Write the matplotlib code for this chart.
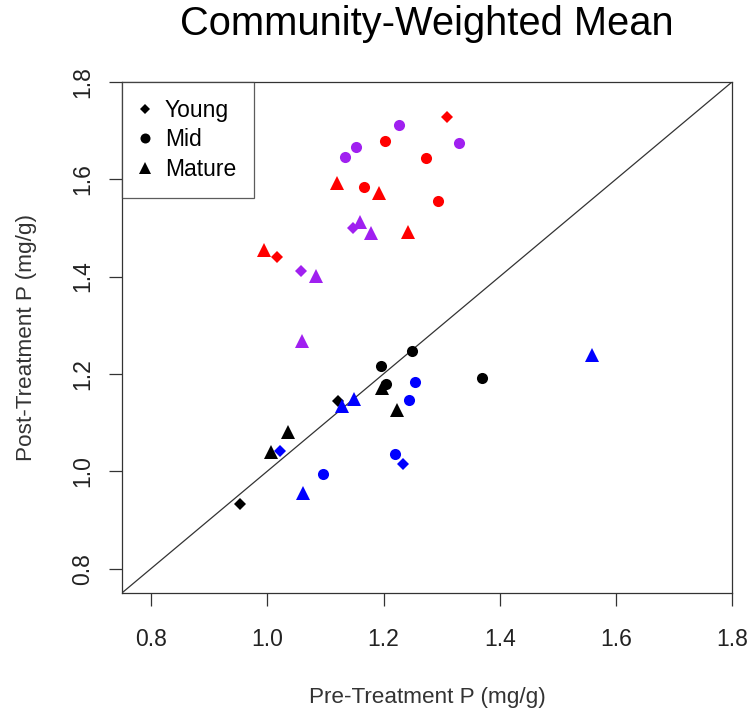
import numpy as np
import matplotlib
matplotlib.use("Agg")
import matplotlib.pyplot as plt
from matplotlib.lines import Line2D

plt.rcParams['font.family'] = ['Liberation Sans', 'DejaVu Sans']

# --- data ---------------------------------------------------------------
# each colour group: Young (diamond), Mid (circle), Mature (triangle)
red_young_x = [1.309, 1.017]
red_young_y = [1.727, 1.440]
red_mid_x = [1.203, 1.273, 1.167, 1.294]
red_mid_y = [1.678, 1.644, 1.583, 1.555]
red_mature_x = [1.120, 1.192, 1.242, 0.995]
red_mature_y = [1.592, 1.572, 1.491, 1.454]

purple_young_x = [1.148, 1.058]
purple_young_y = [1.500, 1.411]
purple_mid_x = [1.226, 1.153, 1.133, 1.330]
purple_mid_y = [1.712, 1.665, 1.646, 1.674]
purple_mature_x = [1.160, 1.179, 1.084, 1.060]
purple_mature_y = [1.512, 1.490, 1.402, 1.268]

blue_young_x = [1.022, 1.233]
blue_young_y = [1.042, 1.015]
blue_mid_x = [1.255, 1.244, 1.220, 1.096]
blue_mid_y = [1.184, 1.146, 1.036, 0.995]
blue_mature_x = [1.128, 1.150, 1.062, 1.558]
blue_mature_y = [1.135, 1.148, 0.956, 1.239]

black_young_x = [0.953, 1.121]
black_young_y = [0.932, 1.145]
black_mid_x = [1.249, 1.196, 1.204, 1.370]
black_mid_y = [1.247, 1.217, 1.179, 1.192]
black_mature_x = [1.197, 1.224, 1.035, 1.007]
black_mature_y = [1.170, 1.126, 1.080, 1.039]

ticks = [0.8, 1.0, 1.2, 1.4, 1.6, 1.8]
age_labels = ["Young", "Mid", "Mature"]

groups = [
    ("#000000", black_young_x, black_young_y, black_mid_x, black_mid_y, black_mature_x, black_mature_y),
    ("#0000FF", blue_young_x, blue_young_y, blue_mid_x, blue_mid_y, blue_mature_x, blue_mature_y),
    ("#FF0000", red_young_x, red_young_y, red_mid_x, red_mid_y, red_mature_x, red_mature_y),
    ("#A020F0", purple_young_x, purple_young_y, purple_mid_x, purple_mid_y, purple_mature_x, purple_mature_y),
]

# marker styles (R pch 18 / 19 / 17)
sty = {"Young": dict(marker="D", ms=6.2),
       "Mid": dict(marker="o", ms=8),
       "Mature": dict(marker="^", ms=10)}

fig = plt.figure(figsize=(7.48, 7.11), dpi=100)
ax = fig.add_axes([0.163, 0.166, 0.816, 0.719])

# 1:1 line
ax.plot([0.75, 1.8], [0.75, 1.8], color="#333333", lw=0.9, zorder=1)

for col, yx, yy, mx, my, tx, ty in groups:
    ax.plot(yx, yy, ls="none", color=col, mew=0, **sty["Young"], zorder=3)
    ax.plot(mx, my, ls="none", color=col, mew=0, **sty["Mid"], zorder=3)
    ax.plot(tx, ty, ls="none", color=col, mew=0, **sty["Mature"], zorder=3)

ax.set_xlim(0.75, 1.8)
ax.set_ylim(0.75, 1.8)
ax.set_xticks(ticks)
ax.set_yticks(ticks)
ax.set_xticklabels([f"{t:.1f}" for t in ticks])
ax.set_yticklabels([f"{t:.1f}" for t in ticks], rotation=90, va="center")
ax.tick_params(length=9.7, width=0.9, color="#333333", labelsize=16.5,
               labelcolor="#222222")
ax.tick_params(axis="x", pad=15.8)
ax.tick_params(axis="y", pad=10)
for s in ax.spines.values():
    s.set_linewidth(0.9)
    s.set_color("#333333")

ax.set_xlabel("Pre-Treatment P (mg/g)", fontsize=16.2, color="#333333", labelpad=25.6)
ax.set_ylabel("Post-Treatment P (mg/g)", fontsize=16.2, color="#333333", labelpad=25)
fig.suptitle("Community-Weighted Mean", x=0.571, y=0.993, va="top", fontsize=28.7)

handles = [Line2D([], [], ls="none", color="black", mew=0, **sty[a]) for a in age_labels]
handles[0].set_markersize(5)
handles[1].set_markersize(7.2)
handles[2].set_markersize(8.8)
leg = ax.legend(handles, age_labels, loc="upper left", borderaxespad=0,
                fontsize=16.5, frameon=True, fancybox=False, handlelength=0.5,
                handletextpad=0.62, borderpad=0.76, labelspacing=0.27)
leg.get_frame().set_edgecolor("#333333")
leg.get_frame().set_linewidth(0.9)

fig.savefig("out.png", dpi=100)
